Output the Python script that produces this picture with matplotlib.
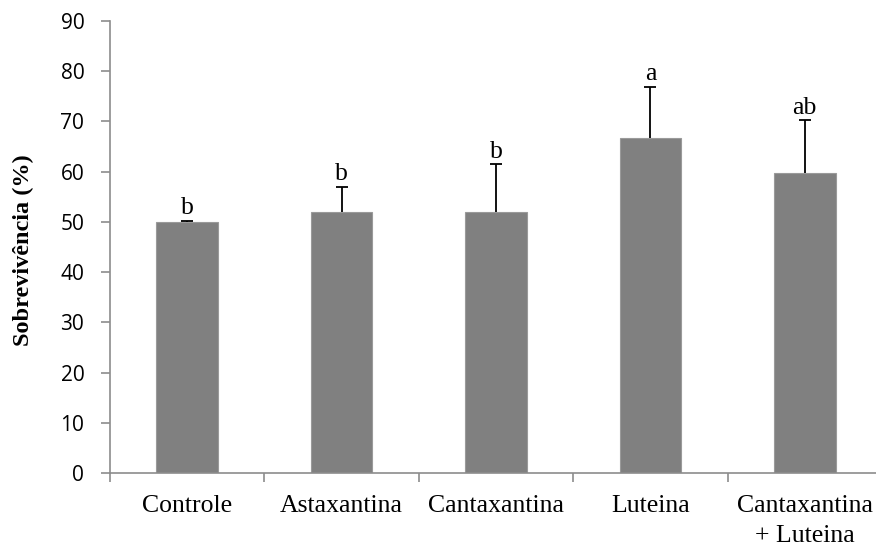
import numpy as np
import matplotlib.pyplot as plt
from matplotlib.ticker import FixedLocator

tratamentos = ["Controle", "Astaxantina", "Cantaxantina", "Luteina", "Cantaxantina\n+ Luteina"]
sobrevivencia = [50.0, 52.0, 52.0, 66.7, 59.8]
erro = [0.2, 5.0, 9.5, 10.2, 10.5]
letras = ["b", "b", "b", "a", "ab"]

cinza_eixo = "#8c8c8c"

fig = plt.figure(figsize=(8.76, 5.46), dpi=100)
ax = fig.add_axes([110/876, 1-473/546, 772/876, (473-21)/546])

x = np.arange(len(tratamentos))
ax.bar(x, sobrevivencia, width=0.4, color="#808080", edgecolor="#9a9a9a", linewidth=0.8, zorder=2)
eb = ax.errorbar(x, sobrevivencia, yerr=[np.zeros(len(erro)), erro], fmt="none",
                 ecolor="black", elinewidth=1.3, capsize=4.3, capthick=1.3, zorder=3)
# so o lado de cima tem traço
eb[1][0].set_visible(False)

for xi, v, e, l in zip(x, sobrevivencia, erro, letras):
    ax.annotate(l, (xi, v + e), xytext=(0, 1), textcoords="offset points",
                ha="center", va="bottom", fontsize=18.5, family="Liberation Serif")

ax.set_xlim(-0.5, len(tratamentos) - 0.5)
ax.set_ylim(0, 90)
ax.set_yticks(np.arange(0, 91, 10))
ax.tick_params(axis="y", length=6.5, width=1.2, color=cinza_eixo, pad=12, labelsize=15)
for t in ax.get_yticklabels():
    t.set_family("Open Sans")

ax.set_xticks(x)
ax.set_xticklabels(tratamentos, family="Liberation Serif", fontsize=18.5, linespacing=1.45)
ax.tick_params(axis="x", which="major", length=0, pad=16)
ax.xaxis.set_minor_locator(FixedLocator(np.arange(-0.5, len(tratamentos), 1.0)))
ax.tick_params(axis="x", which="minor", length=6.5, width=1.2, color=cinza_eixo, direction="out")

for s in ["top", "right"]:
    ax.spines[s].set_visible(False)
for s in ["left", "bottom"]:
    ax.spines[s].set_color(cinza_eixo)
    ax.spines[s].set_linewidth(1.2)

fig.text(23/876, 1-250/546, "Sobrevivência (%)", rotation=90, ha="center", va="center",
         fontsize=17.5, fontweight="bold", family="Liberation Serif")

fig.savefig("out.png", dpi=100)
